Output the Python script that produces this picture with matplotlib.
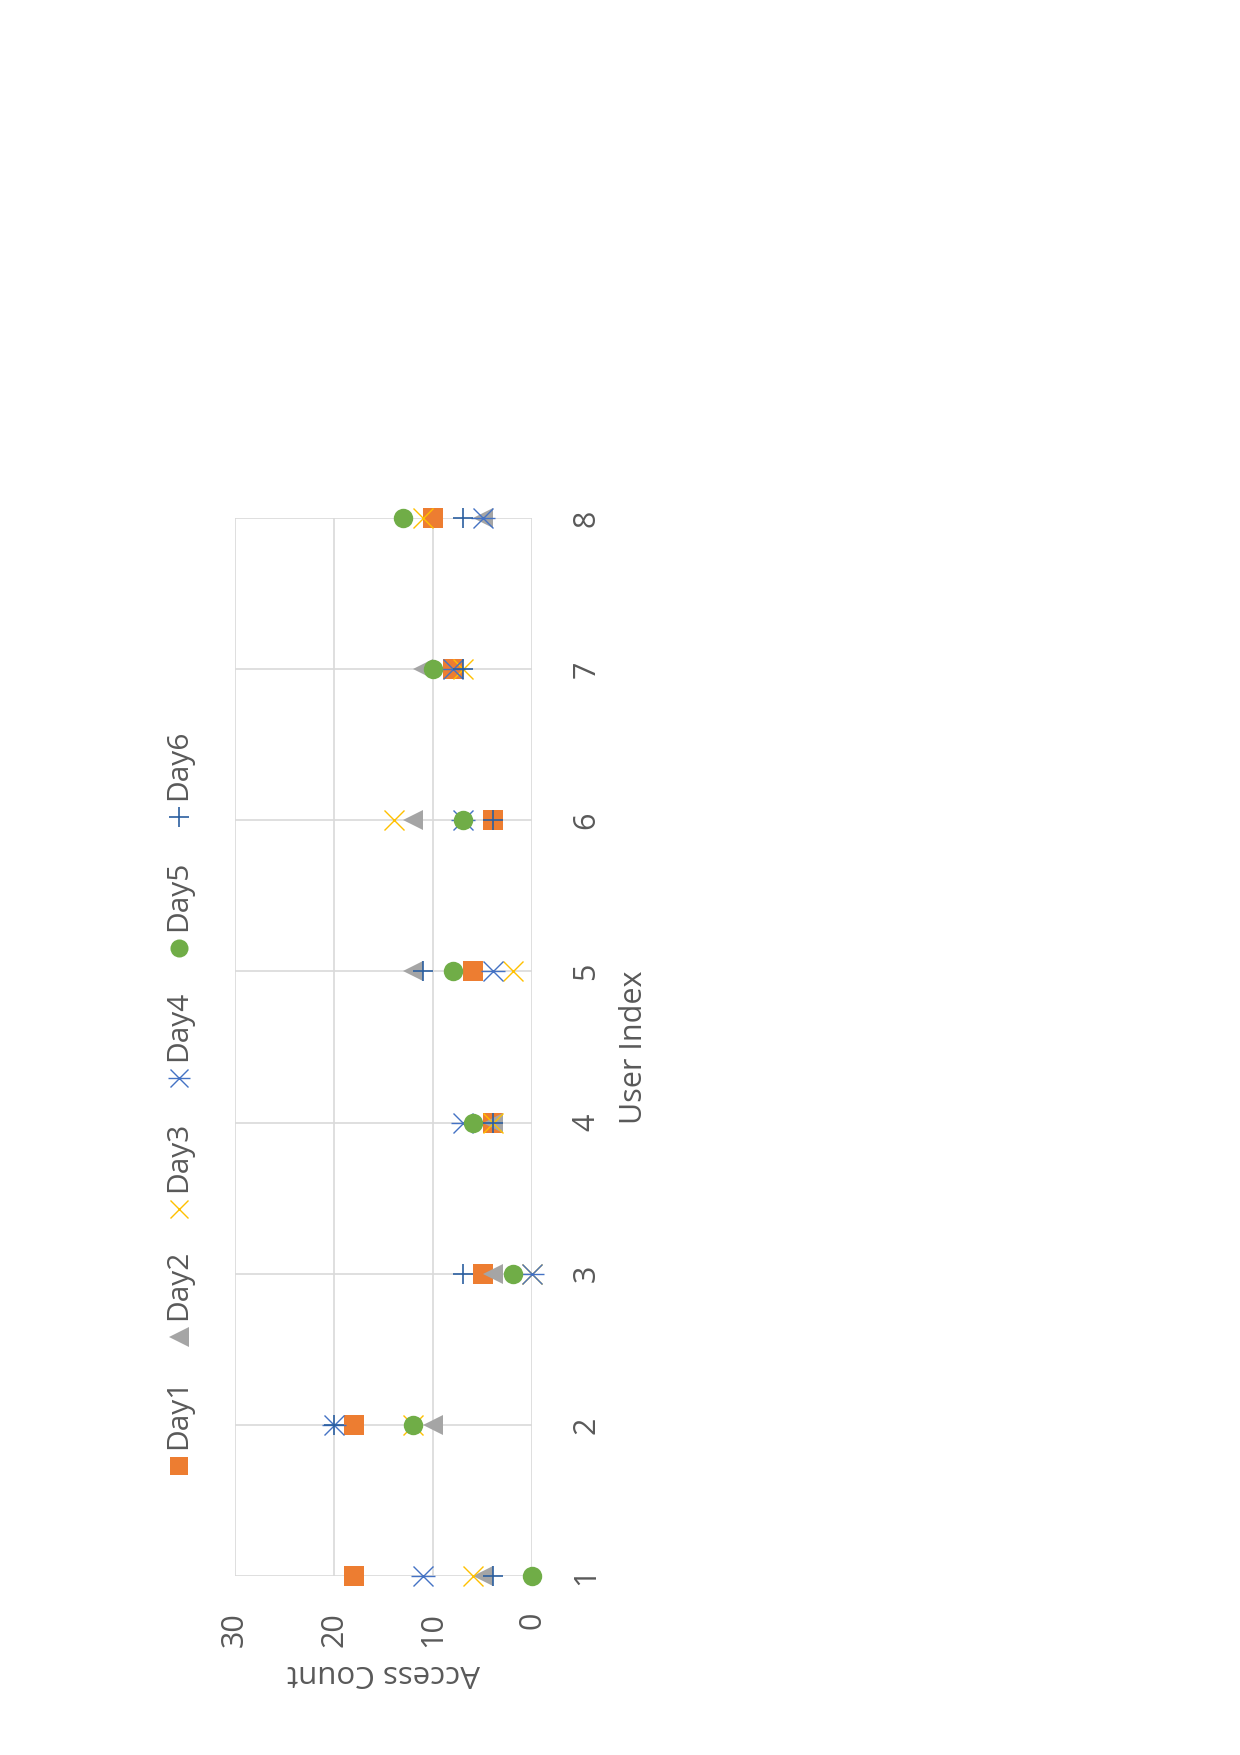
import matplotlib
matplotlib.use('Agg')
import matplotlib.pyplot as plt
from matplotlib.lines import Line2D

plt.rcParams['font.family'] = ['Open Sans', 'DejaVu Sans']

# data (user index 1..8)
users = [1, 2, 3, 4, 5, 6, 7, 8]
series_names = ['Day1', 'Day2', 'Day3', 'Day4', 'Day5', 'Day6']
day1 = [18, 18, 5, 4, 6, 4, 8, 10]
day2 = [5, 10, 4, 4, 12, 12, 11, 5]
day3 = [6, 12, 0, 4, 2, 14, 7, 11]
day4 = [11, 20, 0, 7, 4, 7, 8, 5]
day5 = [0, 12, 2, 6, 8, 7, 10, 13]
day6 = [4, 20, 7, 4, 11, 4, 7, 7]
count_ticks = [0, 10, 20, 30]

TXT = '#595959'
GRID = '#D9D9D9'
# styles per series; the whole chart is turned 90 degrees counter-clockwise
styles = [
    dict(marker='s', color='#ED7D31', ms=14, mew=0),
    dict(marker='<', color='#A5A5A5', ms=15, mew=0),
    dict(marker='x', color='#FFC000', ms=14, mew=1.0),
    dict(marker='x', color='#4472C4', ms=14, mew=1.0),
    dict(marker='o', color='#70AD47', ms=14, mew=0),
    dict(marker='+', color='#2B5FA0', ms=15, mew=1.2),
]


def main():
    fig = plt.figure(figsize=(12.4, 17.55), dpi=100)
    ax = fig.add_axes([0.1895, 0.1020, 0.2398, 0.6028])

    all_days = [day1, day2, day3, day4, day5, day6]
    for vals, st in zip(all_days, styles):
        ax.plot(vals, users, linestyle='none', marker=st['marker'], color=st['color'],
                markersize=st['ms'], markeredgewidth=st['mew'], clip_on=False, zorder=3)
        if st['color'] == '#4472C4':
            # star marker = x plus a bar (horizontal after rotation)
            ax.plot(vals, users, linestyle='none', marker='_', color=st['color'],
                    markersize=st['ms'] + 3, markeredgewidth=st['mew'], clip_on=False, zorder=3)

    ax.set_xlim(30, 0)
    ax.set_ylim(1, 8)
    ax.set_xticks(count_ticks)
    ax.set_yticks(users)
    ax.grid(True, color=GRID, linewidth=1.2, zorder=0)
    for s in ax.spines.values():
        s.set_visible(False)
    ax.yaxis.tick_right()
    ax.tick_params(axis='both', length=0, colors=TXT, labelsize=22)
    ax.tick_params(axis='x', pad=26)
    ax.tick_params(axis='y', pad=28)
    for lab in ax.get_xticklabels():
        lab.set_rotation(90)
        lab.set_va('top')
    for lab in ax.get_yticklabels():
        lab.set_rotation(90)
        lab.set_ha('left')
        lab.set_va('center')

    fig.text(383.6 / 1240, 1 - 1673 / 1755, 'Access Count', rotation=180,
             ha='center', va='center', fontsize=22.5, color=TXT)
    fig.text(634 / 1240, 1 - 1047 / 1755, 'User Index', rotation=90,
             ha='center', va='center', fontsize=22, color=TXT)

    # legend on the left, reading bottom to top
    leg_x = 179 / 1240
    leg_y = [1466, 1337, 1209, 1078, 948, 817]
    for name, st, yp in zip(series_names, styles, leg_y):
        yf = 1 - yp / 1755
        fig.add_artist(Line2D([leg_x], [yf], transform=fig.transFigure, linestyle='none',
                              marker=st['marker'], color=st['color'], markersize=st['ms'] - 1,
                              markeredgewidth=st['mew']))
        if st['color'] == '#4472C4':
            fig.add_artist(Line2D([leg_x], [yf], transform=fig.transFigure, linestyle='none',
                                  marker='_', color=st['color'], markersize=st['ms'] + 2,
                                  markeredgewidth=st['mew']))
        fig.text(leg_x, yf + 17 / 1755, name, rotation=90, ha='center', va='bottom',
                 fontsize=21.5, color=TXT)

    fig.savefig('out.png', dpi=100)
    plt.close(fig)


if __name__ == "__main__":
    main()
